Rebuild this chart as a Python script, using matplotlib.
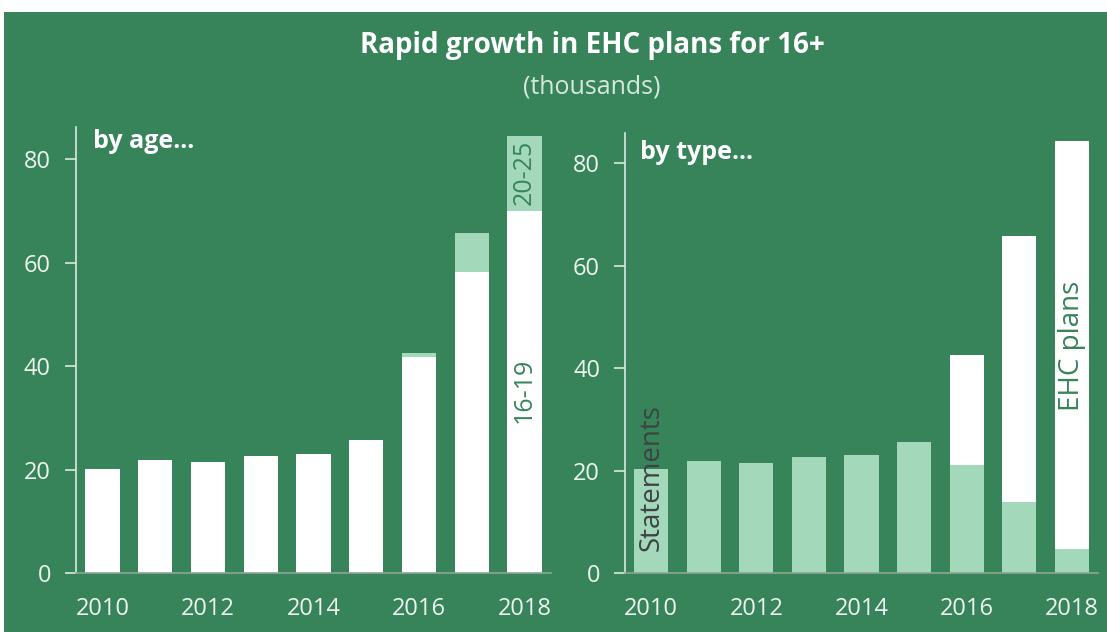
import numpy as np
import matplotlib.pyplot as plt
from matplotlib.patches import Rectangle

plt.rcParams['font.family'] = ['Open Sans', 'DejaVu Sans']

years = [2010, 2011, 2012, 2013, 2014, 2015, 2016, 2017, 2018]
# by age (thousands)
age_16_19 = [20.1, 21.8, 21.4, 22.6, 23.0, 25.7, 41.7, 58.2, 70.0]
age_20_25 = [0, 0, 0, 0, 0, 0, 0.8, 7.5, 14.4]
# by type (thousands)
statements = [20.3, 21.9, 21.5, 22.7, 23.1, 25.6, 21.1, 13.9, 4.7]
ehc_plans = [0, 0, 0, 0, 0, 0, 21.4, 51.9, 79.6]

green = '#37845a'
light = '#a3d8bb'
txt = '#eef5f0'

fig = plt.figure(figsize=(11.07, 6.32), dpi=100)
fig.patch.set_facecolor('white')
# green panel (thin white margin top/left)
bg = Rectangle((4 / 1107, 0), 1, 1 - 12 / 632, transform=fig.transFigure,
               fc=green, ec='none', zorder=-10)
fig.add_artist(bg)

fig.text(0.535, 1 - 45 / 632, 'Rapid growth in EHC plans for 16+', color='white',
         fontsize=20, fontweight='bold', ha='center', va='center')
fig.text(0.535, 1 - 87 / 632, '(thousands)', color='#d6e8dd', fontsize=18,
         ha='center', va='center')

ax1 = fig.add_axes([76 / 1107, 1 - 573 / 632, 475 / 1107, 446 / 632])
ax2 = fig.add_axes([625 / 1107, 1 - 573 / 632, 473 / 1107, 440 / 632])

w = 0.65
ax1.bar(years, age_16_19, width=w, color='white')
ax1.bar(years, age_20_25, width=w, bottom=age_16_19, color=light)
ax2.bar(years, statements, width=w, color=light)
ax2.bar(years, ehc_plans, width=w, bottom=statements, color='white')

ax1.set_ylim(0, 86.2)
ax2.set_ylim(0, 85.9)

for ax in (ax1, ax2):
    ax.set_facecolor('none')
    ax.set_xlim(2009.5, 2018.5)
    ax.set_yticks([0, 20, 40, 60, 80])
    ax.set_xticks([2010, 2012, 2014, 2016, 2018])
    for s in ('top', 'right'):
        ax.spines[s].set_visible(False)
    ax.spines['left'].set_color('#dbe8df')
    ax.spines['left'].set_linewidth(1.2)
    ax.spines['bottom'].set_color('#8fa596')
    ax.spines['bottom'].set_linewidth(1.2)
    ax.tick_params(axis='y', colors='#dbe8df', length=8, width=1.2, pad=10,
                   labelsize=17, labelcolor=txt)
    ax.tick_params(axis='x', length=0, pad=17, labelsize=17, labelcolor=txt)

ax1.text(0.036, 0.995, 'by age...', transform=ax1.transAxes, color='white',
         fontsize=18, fontweight='bold', va='top', ha='left')
ax2.text(0.032, 0.985, 'by type...', transform=ax2.transAxes, color='white',
         fontsize=18, fontweight='bold', va='top', ha='left')

ax1.text(2018, 35.4, '16-19', rotation=90, color=green, fontsize=18,
         ha='center', va='center')
ax1.text(2018, 77.5, '20-25', rotation=90, color=green, fontsize=18,
         ha='center', va='center')
ax2.text(2018, 44.3, 'EHC plans', rotation=90, color=green, fontsize=20,
         ha='center', va='center')
ax2.text(2010, 18.7, 'Statements', rotation=90, color='#3d4442', fontsize=20,
         ha='center', va='center')

fig.savefig('out.png', dpi=100, facecolor=fig.get_facecolor())
